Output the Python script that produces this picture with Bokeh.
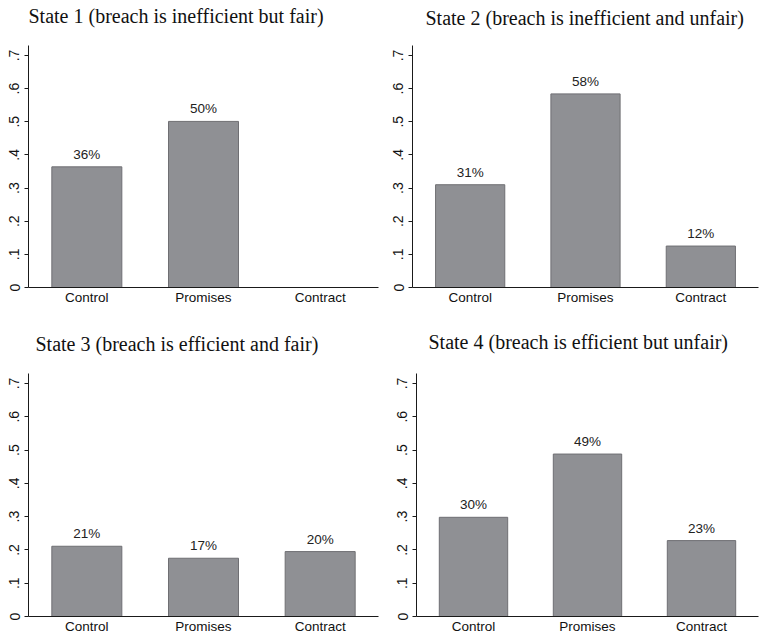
import math
from bokeh.plotting import figure
from bokeh.layouts import column, row
from bokeh.models import ColumnDataSource, FixedTicker, Range1d, FactorRange, Title
from bokeh.core.properties import value
from bokeh.embed import file_html
from bokeh.resources import INLINE

categories = ["Control", "Promises", "Contract"]

titles = [
    "State 1 (breach is inefficient but fair)",
    "State 2 (breach is inefficient and unfair)",
    "State 3 (breach is efficient and fair)",
    "State 4 (breach is efficient but unfair)",
]

state1 = [0.364, 0.501, float("nan")]
state2 = [0.310, 0.584, 0.125]
state3 = [0.211, 0.175, 0.195]
state4 = [0.298, 0.488, 0.228]

labels1 = ["36%", "50%", ""]
labels2 = ["31%", "58%", "12%"]
labels3 = ["21%", "17%", "20%"]
labels4 = ["30%", "49%", "23%"]

y_ticks = [0, 0.1, 0.2, 0.3, 0.4, 0.5, 0.6, 0.7]
y_tick_labels = ["0", ".1", ".2", ".3", ".4", ".5", ".6", ".7"]

BAR_FILL = "#8f9094"
BAR_LINE = "#6f6f73"
AXIS_COLOR = "#1a1a1a"
SANS = "Liberation Sans"
SERIF = "Liberation Serif"


def make_panel(title, values, labels, width, height, border_left, border_right,
               border_top, border_bottom, title_x, spacer):
    p = figure(
        width=width, height=height,
        x_range=FactorRange(*categories, range_padding=0),
        y_range=Range1d(0, 0.73),
        output_backend="svg", toolbar_location=None,
        min_border_left=border_left, min_border_right=border_right,
        min_border_top=border_top, min_border_bottom=border_bottom,
    )
    p.x_range.factor_padding = 0
    p.outline_line_color = None
    p.grid.visible = False
    p.background_fill_color = "white"
    p.border_fill_color = "white"

    # spacer between frame and title
    p.add_layout(Title(text=" ", text_font_size="1px", standoff=spacer - 3,
                       text_color="white"), "above")
    p.add_layout(Title(text=title, align="left", offset=title_x,
                       text_font=SERIF, text_font_size="20px",
                       text_font_style="normal", text_color="#111111",
                       standoff=0), "above")

    src = ColumnDataSource(dict(x=categories, top=list(values)))
    p.vbar(x="x", top="top", width=0.6, source=src,
           fill_color=BAR_FILL, line_color=BAR_LINE, line_width=1)

    lx, ly, lt = [], [], []
    for c, v, l in zip(categories, values, labels):
        if not (isinstance(v, float) and math.isnan(v)) and l:
            lx.append(c)
            ly.append(v)
            lt.append(l)
    lsrc = ColumnDataSource(dict(x=lx, y=ly, t=lt))
    p.text(x="x", y="y", text="t", source=lsrc, text_align="center",
           text_baseline="bottom", y_offset=-5, text_font_size="13.5px",
           text_font=value(SANS), text_color="#222222")

    # y axis
    p.yaxis.ticker = FixedTicker(ticks=y_ticks)
    p.yaxis.major_label_overrides = {t_: l_ for t_, l_ in zip(y_ticks, y_tick_labels)}
    p.yaxis.minor_tick_line_color = None
    p.yaxis.major_tick_in = 0
    p.yaxis.major_tick_out = 4
    p.yaxis.major_label_orientation = "vertical"
    p.yaxis.major_label_standoff = 5
    p.yaxis.major_label_text_font = SANS
    p.yaxis.major_label_text_font_size = "14px"
    p.yaxis.major_label_text_color = "#111111"
    p.yaxis.axis_line_color = AXIS_COLOR
    p.yaxis.major_tick_line_color = AXIS_COLOR

    # x axis
    p.xaxis.major_tick_in = 0
    p.xaxis.major_tick_out = 0
    p.xaxis.minor_tick_line_color = None
    p.xaxis.major_label_standoff = 2
    p.xaxis.major_label_text_font = SANS
    p.xaxis.major_label_text_font_size = "13.5px"
    p.xaxis.major_label_text_color = "#111111"
    p.xaxis.axis_line_color = AXIS_COLOR
    return p


p1 = make_panel(titles[0], state1, labels1, 380, 320, 28, 2, 45, 31, 0, 18.7)
p2 = make_panel(titles[1], state2, labels2, 382, 320, 32, 4, 43, 33, 13, 16.7)
p3 = make_panel(titles[2], state3, labels3, 380, 317, 28, 2, 53, 20, 7, 18.7)
p4 = make_panel(titles[3], state4, labels4, 382, 317, 36, 4, 53, 21, 12, 20.7)

layout = column(row(p1, p2, spacing=0), row(p3, p4, spacing=0), spacing=0)

with open("out.html", "w") as f:
    f.write(file_html(layout, INLINE))
